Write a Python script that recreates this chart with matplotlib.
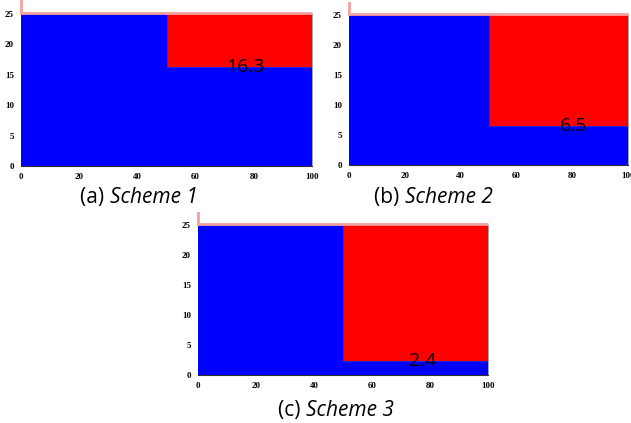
import matplotlib
matplotlib.use('Agg')
import matplotlib.pyplot as plt

# three schemes: boundary height of the right half
schemes = ['Scheme 1', 'Scheme 2', 'Scheme 3']
letters = ['(a)', '(b)', '(c)']
heights = [16.3, 6.5, 2.4]
x_split = [0, 50, 100]
y_top = 25
xticks = [0, 20, 40, 60, 80, 100]
yticks = [0, 5, 10, 15, 20, 25]
label_x = [77, 80.5, 77.5]

W, H = 631, 423
fig = plt.figure(figsize=(W / 100, H / 100), dpi=100)

# axes boxes in pixels: left, right, top, bottom
boxes = [(21, 312, 14, 166), (349, 628, 15, 165), (198, 488, 225, 375)]
# caption left edge and vertical centre, in pixels
captions_xy = [(80, 197), (374, 197), (278, 410)]

renderer = fig.canvas.get_renderer()

for i, (l, r, t, b) in enumerate(boxes):
    ax = fig.add_axes([l / W, (H - b) / H, (r - l) / W, (b - t) / H])
    h = heights[i]
    # blue region below the step, red region above it
    ax.fill_between(x_split, [y_top, h, h], 0, step='post', color='#0000ff', lw=0)
    ax.fill_between(x_split[1:], [h, h], y_top, color='#ff0000', lw=0)
    ax.plot([50, 50, 100], [y_top, h, h], color='#2a2ad0', lw=0.6)
    ax.set_xlim(0, 100)
    ax.set_ylim(0, y_top)
    ax.set_xticks(xticks)
    ax.set_yticks(yticks)
    ax.tick_params(length=0, pad=5)
    for lab in ax.get_xticklabels() + ax.get_yticklabels():
        lab.set_fontfamily('Liberation Serif')
        lab.set_fontweight('bold')
        lab.set_fontsize(6.5)
    for s in ['left', 'top']:
        ax.spines[s].set_visible(False)
    ax.spines['bottom'].set_color('#303030')
    ax.spines['bottom'].set_linewidth(0.8)
    ax.spines['right'].set_color('#909090')
    ax.spines['right'].set_linewidth(0.6)
    # light red frame remnant along the top
    ax.plot([0, 1], [1.005, 1.005], transform=ax.transAxes, color='#f4a0a0',
            lw=2, clip_on=False, solid_capstyle='butt')
    rise = t if i == 0 else 12
    ax.plot([0, 0], [1.005, 1 + rise / (b - t)],
            transform=ax.transAxes, color='#f4a0a0', lw=2, clip_on=False)
    ax.text(label_x[i], h, f'{h}', ha='center', va='center', fontsize=14,
            family='Open Sans', color='black')

    # caption: letter upright, scheme name in italics
    cx, cy = captions_xy[i]
    t1 = fig.text(cx / W, (H - cy) / H, letters[i] + ' ', ha='left', va='center',
                  fontsize=15, family='Open Sans')
    w1 = t1.get_window_extent(renderer).width
    fig.text((cx + w1) / W, (H - cy) / H, schemes[i], ha='left', va='center',
             fontsize=15, family='Open Sans', style='italic')

fig.savefig('out.png', dpi=100)
